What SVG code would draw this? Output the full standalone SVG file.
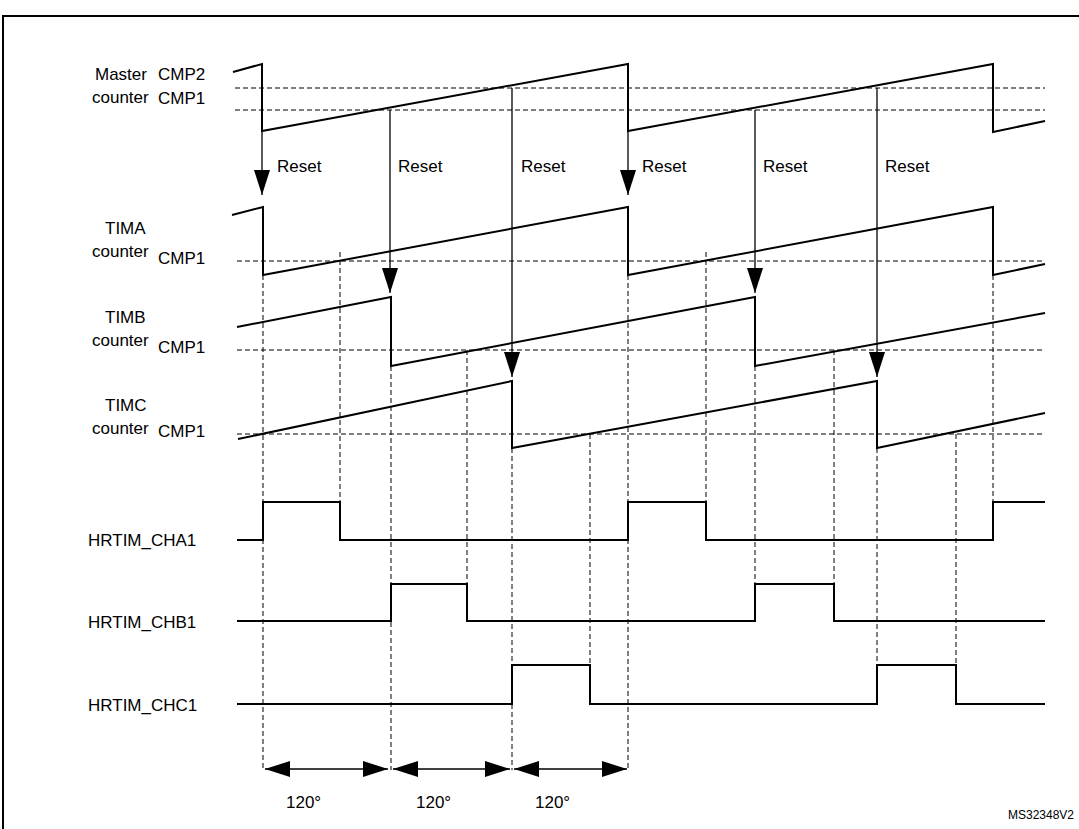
<svg xmlns="http://www.w3.org/2000/svg" width="1079" height="829" viewBox="0 0 1079 829">
<style>
text{font-family:"Liberation Sans",Arial,sans-serif;font-size:17px;fill:#000}
.s{fill:none;stroke:#000;stroke-width:2}
.t{fill:none;stroke:#000;stroke-width:1.3}
.d{fill:none;stroke:#000;stroke-width:1;stroke-dasharray:5,3}
</style>
<defs>
<marker id="a" markerWidth="25" markerHeight="16" refX="25" refY="8" orient="auto" markerUnits="userSpaceOnUse" viewBox="0 0 25 16"><path d="M0,0L25,8L0,16Z"/></marker>
<marker id="h" markerWidth="25" markerHeight="16" refX="25" refY="8" orient="auto-start-reverse" markerUnits="userSpaceOnUse" viewBox="0 0 25 16"><path d="M0,0L25,8L0,16Z"/></marker>
</defs>
<rect width="1079" height="829" fill="#fff"/>
<path d="M3,829V16H1079" class="s"/>
<g id="labels">
<text x="95" y="80">Master</text><text x="92" y="103">counter</text>
<text x="158" y="80">CMP2</text><text x="158" y="104">CMP1</text>
<text x="105" y="234">TIMA</text><text x="92" y="257">counter</text><text x="158" y="264">CMP1</text>
<text x="105" y="323">TIMB</text><text x="92" y="346">counter</text><text x="158" y="353">CMP1</text>
<text x="105" y="411">TIMC</text><text x="92" y="434">counter</text><text x="158" y="437">CMP1</text>
<text x="88" y="546">HRTIM_CHA1</text><text x="88" y="628">HRTIM_CHB1</text><text x="88" y="711">HRTIM_CHC1</text>
<text x="277" y="172">Reset</text><text x="398" y="172">Reset</text><text x="521" y="172">Reset</text><text x="642" y="172">Reset</text><text x="763" y="172">Reset</text><text x="885" y="172">Reset</text>
<text x="286" y="808">120°</text><text x="416" y="808">120°</text><text x="535" y="808">120°</text>
<text x="1008" y="819" style="font-size:12px">MS32348V2</text>
</g>
<g id="grid">
<path class="d" d="M235,88H1045M235,110H1045M237,261H1045M237,350H1045M237,434H1045"/>
<path class="d" d="M263,275V770M391,366V770M512,448V770M628,275V770M340,252V540M467,350V621M590,434V704M706,252V540M834,350V621M956,434V704M755,366V621M877,448V704M993,275V540"/>
</g>
<g id="waveforms">
<path class="s" d="M233,72L262,64V131L628,64V131L993,64V132L1045,121"/>
<path class="s" d="M232,215L263,207V275L628,207V275L993,207V275L1045,264"/>
<path class="s" d="M237,327L391,297V366L755,297V366L1045,313"/>
<path class="s" d="M238,439L512,381V448L877,381V448L1045,413"/>
<path class="s" d="M237,540H263V502H340V540H628V502H706V540H993V502H1045"/>
<path class="s" d="M237,621H391V584H467V621H755V584H834V621H1045"/>
<path class="s" d="M237,704H512V665H590V704H877V665H956V704H1045"/>
</g>
<g id="connectors">
<path class="t" d="M262,131V195" marker-end="url(#a)"/>
<path class="t" d="M628,131V195" marker-end="url(#a)"/>
<path class="t" d="M390,110V293" marker-end="url(#a)"/>
<path class="t" d="M755,110V293" marker-end="url(#a)"/>
<path class="t" d="M512,88V377" marker-end="url(#a)"/>
<path class="t" d="M877,88V377" marker-end="url(#a)"/>
<path class="t" d="M265,769H388" marker-start="url(#h)" marker-end="url(#h)"/>
<path class="t" d="M393,769H510" marker-start="url(#h)" marker-end="url(#h)"/>
<path class="t" d="M514,769H627" marker-start="url(#h)" marker-end="url(#h)"/>
</g>
</svg>
